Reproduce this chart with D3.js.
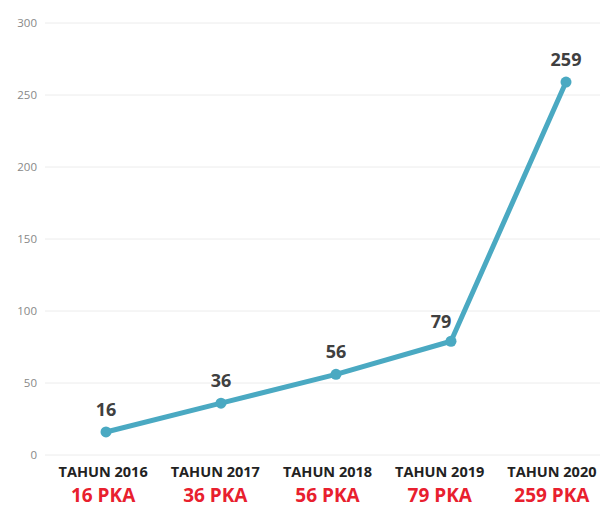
<!DOCTYPE html>
<html>
<head>
<meta charset="utf-8">
<script src="https://cdn.jsdelivr.net/npm/d3@7"></script>
<style>
  html, body { margin: 0; padding: 0; background: #fff; }
  svg { display: block; }
</style>
</head>
<body>
<svg id="chart" width="607" height="508"></svg>
<script>
// Jumlah PKA per tahun
const years = ["TAHUN 2016", "TAHUN 2017", "TAHUN 2018", "TAHUN 2019", "TAHUN 2020"];
const values = [16, 36, 56, 79, 259];
const yTicks = [0, 50, 100, 150, 200, 250, 300];

const svg = d3.select("#chart");

// plot positions for the points, and a slightly tighter band for the category text
const x = d3.scaleBand().domain(years).range([48.5, 623.5]);
const xText = d3.scaleBand().domain(years).range([47, 608]);
const y = d3.scaleLinear().domain([0, 300]).range([455, 23]);
const cx = d => x(d) + x.bandwidth() / 2;
const tx = d => xText(d) + xText.bandwidth() / 2;

// gridlines
svg.append("g").selectAll("line").data(yTicks).join("line")
  .attr("x1", 45).attr("x2", 600)
  .attr("y1", d => y(d)).attr("y2", d => y(d))
  .attr("stroke", "#ececec").attr("stroke-width", 1);

// y axis labels
const yAxis = d3.axisLeft(y).tickValues(yTicks).tickSize(0).tickPadding(0);
const gy = svg.append("g").attr("transform", "translate(37,0)").call(yAxis);
gy.select(".domain").remove();
gy.selectAll("text")
  .attr("font-family", "'Open Sans', sans-serif")
  .attr("font-size", 11.5)
  .attr("fill", "#888");

// line
const data = years.map((yr, i) => ({ yr, v: values[i] }));
const line = d3.line().x(d => cx(d.yr)).y(d => y(d.v));
svg.append("path").datum(data)
  .attr("d", line)
  .attr("fill", "none")
  .attr("stroke", "#4aa9c2")
  .attr("stroke-width", 5)
  .attr("stroke-linejoin", "round");

svg.append("g").selectAll("circle").data(data).join("circle")
  .attr("cx", d => cx(d.yr)).attr("cy", d => y(d.v))
  .attr("r", 5.5).attr("fill", "#4aa9c2");

// value labels
svg.append("g").selectAll("text").data(data).join("text")
  .attr("x", (d, i) => cx(d.yr) + (i === 3 ? -10 : 0))
  .attr("y", (d, i) => y(d.v) - (i === 3 ? 13 : 16))
  .attr("text-anchor", "middle")
  .attr("font-family", "'Open Sans', sans-serif")
  .attr("font-weight", "bold")
  .attr("font-size", 18)
  .attr("fill", "#404040")
  .text(d => d.v);

// category labels
const xAxis = svg.append("g");
xAxis.selectAll("text.yr").data(years).join("text")
  .attr("class", "yr")
  .attr("x", d => tx(d)).attr("y", 477)
  .attr("text-anchor", "middle")
  .attr("font-family", "'Open Sans', sans-serif")
  .attr("font-weight", "bold")
  .attr("font-size", 14.5)
  .attr("fill", "#222")
  .text(d => d);

xAxis.selectAll("text.pka").data(data).join("text")
  .attr("class", "pka")
  .attr("x", d => tx(d.yr)).attr("y", 502)
  .attr("text-anchor", "middle")
  .attr("font-family", "'Open Sans', sans-serif")
  .attr("font-weight", "bold")
  .attr("font-size", 19)
  .attr("fill", "#e8202e")
  .text(d => d.v + " PKA");
</script>
</body>
</html>
